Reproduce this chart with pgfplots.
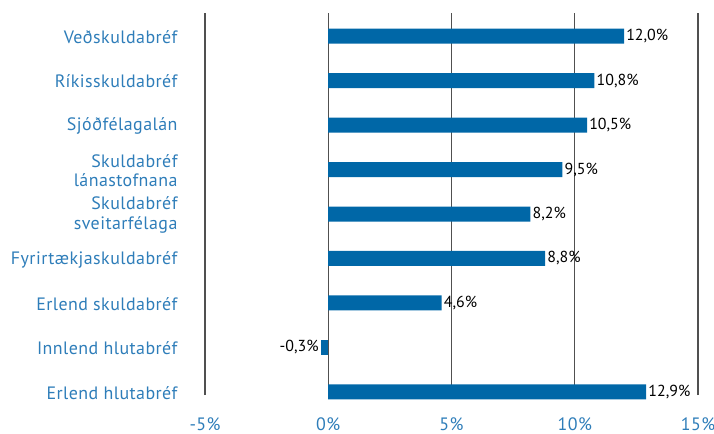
\documentclass[border=0pt]{standalone}
\usepackage{pgfplots}
\pgfplotsset{compat=1.18}
\usepackage{fontspec}
\setmainfont{PT Sans}
\newfontfamily\lblfont[LetterSpace=2.5]{PT Sans}
\definecolor{barblue}{RGB}{0,103,167}
\definecolor{lblblue}{RGB}{46,125,185}
\definecolor{gridgray}{RGB}{80,80,80}
\begin{document}
\begin{tikzpicture}
\begin{axis}[
  scale only axis, width=493bp, height=382bp,
  xmin=-5, xmax=15, ymin=-0.07, ymax=8.52,
  axis line style={draw=none},
  xtick={-5,0,5,10,15},
  xticklabel={\pgfmathprintnumber{\tick}\%},
  /pgf/number format/assume math mode=true,
  xticklabel style={font=\lblfont\fontsize{18}{20}\selectfont, text=lblblue, anchor=north, yshift=-19bp},
  xmajorgrids, major grid style={gridgray, line width=1.2pt},
  major tick length=0pt,
  ytick={0,1,2,3,4,5,6,7,8},
  yticklabels={Erlend hlutabréf, Innlend hlutabréf, Erlend skuldabréf, Fyrirtækjaskuldabréf, {Skuldabréf\\sveitarfélaga}, {Skuldabréf\\lánastofnana}, Sjóðfélagalán, Ríkisskuldabréf, Veðskuldabréf},
  yticklabel style={font=\lblfont\fontsize{18}{19.5}\selectfont, text=lblblue, align=right, xshift=-24bp, yshift=-1bp},
  xbar, bar width=15bp, bar shift=0pt,
  point meta=x,
  nodes near coords={\pgfmathprintnumber[fixed, fixed zerofill, precision=1, use comma, assume math mode=true]{\pgfplotspointmeta}\%},
  every node near coord/.append style={font=\fontsize{16}{18}\selectfont, text=black, inner sep=2bp},
  clip=false,
]
\addplot[fill=barblue, draw=none, nodes near coords align={horizontal}] coordinates {
 (12.9,0) (4.6,2) (8.8,3) (8.2,4) (9.5,5) (10.5,6) (10.8,7) (12.0,8)};
\addplot[fill=barblue, draw=none, nodes near coords align={horizontal}] coordinates {
 (-0.3,1)};
\end{axis}
\pgfresetboundingbox
\useasboundingbox (-205bp,-39bp) rectangle (509bp,395bp);
\end{tikzpicture}
\end{document}
